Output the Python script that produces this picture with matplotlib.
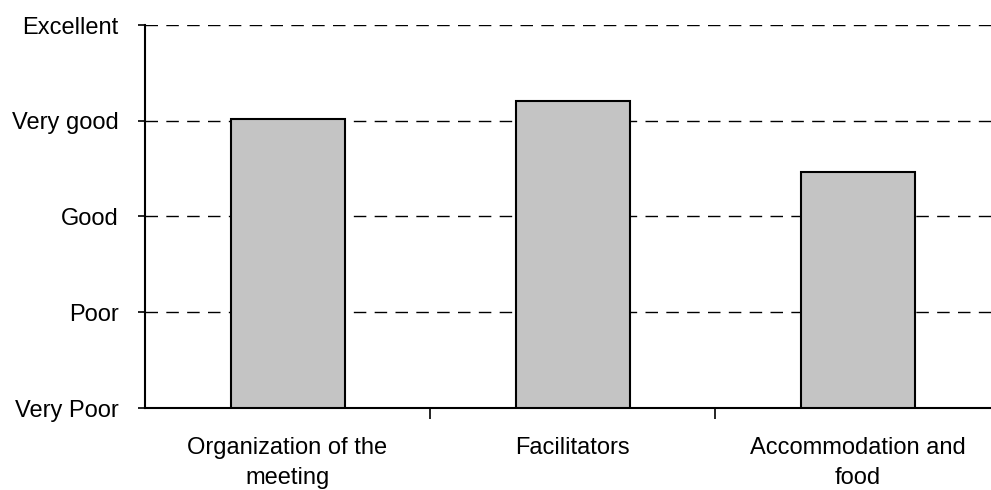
import matplotlib
matplotlib.use('Agg')
import matplotlib.pyplot as plt

categories = ['Organization of the\nmeeting', 'Facilitators', 'Accommodation and\nfood']
scores = [4.02, 4.21, 3.46]
rating_levels = [1, 2, 3, 4, 5]
rating_labels = ['Very Poor', 'Poor', 'Good', 'Very good', 'Excellent']

plt.rcParams['font.family'] = ['Liberation Sans', 'DejaVu Sans']

fig = plt.figure(figsize=(9.91, 4.90), dpi=100)
ax = fig.add_axes([145 / 991, 82 / 490, 855 / 991, 383 / 490])

x = list(range(len(categories)))
ax.bar(x, [s - 1 for s in scores], bottom=1, width=0.4, color='#c4c4c4',
       edgecolor='black', linewidth=1.5, zorder=3)

# dashed reference lines for each rating above the baseline
for lvl in rating_levels[1:]:
    ax.axhline(lvl, color='black', linewidth=1, linestyle=(0, (9, 6)), zorder=1)

ax.set_xlim(-0.5, 2.5)
ax.set_ylim(1, 5)
ax.set_yticks(rating_levels)
ax.set_yticklabels(rating_labels, fontsize=17)
ax.set_xticks([0.5, 1.5, 2.5], minor=False)
ax.set_xticklabels([])
ax.set_xticks(x, minor=True)
ax.set_xticklabels(categories, minor=True, fontsize=17, linespacing=1.45)
ax.tick_params(axis='x', which='minor', length=0, pad=21)
ax.tick_params(axis='x', which='major', length=8, width=1.2)
ax.tick_params(axis='y', length=5, width=1.2, pad=14)

for side in ['top', 'right']:
    ax.spines[side].set_visible(False)
for side in ['left', 'bottom']:
    ax.spines[side].set_linewidth(1.5)

plt.savefig('out.png', dpi=100)
